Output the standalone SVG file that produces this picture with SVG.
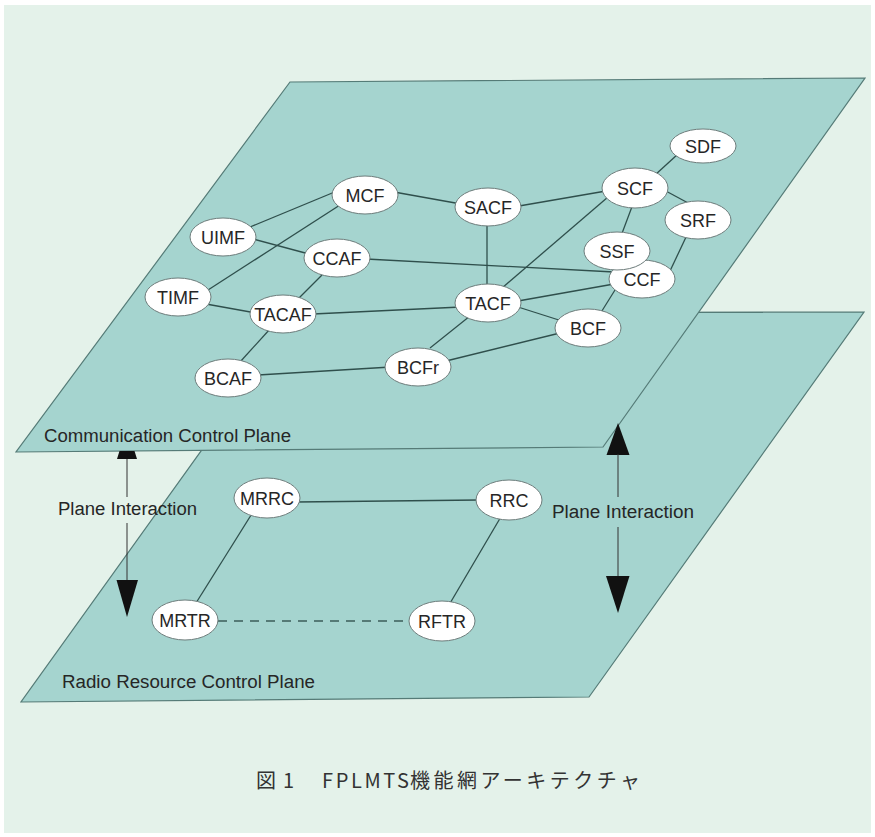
<svg xmlns="http://www.w3.org/2000/svg" width="875" height="837" viewBox="0 0 875 837">
<style>
.bg{fill:#e4f2ea}
.plane{fill:#a5d4cf;stroke:#557b77;stroke-width:1.2}
.edge{stroke:#2f4f4c;stroke-width:1.3;fill:none}
.dash{stroke:#3b5c59;stroke-width:1.3;stroke-dasharray:9 7;fill:none}
.node ellipse{fill:#ffffff;stroke:#6d7c7b;stroke-width:1}
.node text{font-family:"Liberation Sans",Arial,Helvetica,sans-serif;font-size:18px;fill:#262626;text-anchor:middle}
.lbl{font-family:"Liberation Sans",Arial,Helvetica,sans-serif;font-size:18px;fill:#262626}
.shaft{stroke:#333;stroke-width:1}
.head{fill:#111}
.cap{font-family:"Noto Sans CJK JP","Liberation Sans",sans-serif;font-size:20px;fill:#333333}
</style>
<rect x="0" y="0" width="875" height="837" fill="#ffffff"/>
<rect class="bg" x="4" y="5" width="867" height="828"/>

<g id="radio-plane">
<polygon class="plane" points="300,313 864,312 589,697 21,702"/>
<text class="lbl" x="62" y="688" textLength="253" lengthAdjust="spacingAndGlyphs">Radio Resource Control Plane</text>
</g>

<g id="comm-plane">
<polygon class="plane" points="290,82 865,78 603,447 16,452"/>
<text class="lbl" x="44" y="442" textLength="247" lengthAdjust="spacingAndGlyphs">Communication Control Plane</text>
</g>

<g id="connectors">
<line class="edge" x1="250" y1="227" x2="337" y2="191"/>
<line class="edge" x1="208" y1="290" x2="340" y2="205"/>
<line class="edge" x1="253" y1="239" x2="309" y2="254"/>
<line class="edge" x1="322" y1="275" x2="298" y2="299"/>
<line class="edge" x1="206" y1="304" x2="256" y2="313"/>
<line class="edge" x1="313" y1="314" x2="461" y2="307"/>
<line class="edge" x1="270" y1="329" x2="240" y2="362"/>
<line class="edge" x1="258" y1="375" x2="391" y2="367"/>
<line class="edge" x1="394" y1="192" x2="461" y2="204"/>
<line class="edge" x1="366" y1="259" x2="614" y2="272"/>
<line class="edge" x1="519" y1="206" x2="606" y2="191"/>
<line class="edge" x1="487" y1="222" x2="487" y2="288"/>
<line class="edge" x1="608" y1="197" x2="502" y2="288"/>
<line class="edge" x1="655" y1="175" x2="678" y2="154"/>
<line class="edge" x1="664" y1="190" x2="690" y2="204"/>
<line class="edge" x1="633" y1="204" x2="621" y2="236"/>
<line class="edge" x1="687" y1="235" x2="670" y2="271"/>
<line class="edge" x1="518" y1="301" x2="614" y2="284"/>
<line class="edge" x1="518" y1="307" x2="562" y2="321"/>
<line class="edge" x1="615" y1="290" x2="600" y2="314"/>
<line class="edge" x1="470" y1="316" x2="430" y2="348"/>
<line class="edge" x1="446" y1="361" x2="560" y2="333"/>
<line class="edge" x1="296" y1="502" x2="479" y2="500"/>
<line class="edge" x1="253" y1="512" x2="196" y2="603"/>
<line class="edge" x1="502" y1="515" x2="449" y2="605"/>
<line class="dash" x1="218" y1="621" x2="410" y2="621"/>
<!-- left plane interaction arrow -->
<polygon class="head" points="117,459 137,459 134.5,451 119.5,451"/>
<line class="shaft" x1="127" y1="459" x2="127" y2="497"/>
<line class="shaft" x1="127" y1="523" x2="127" y2="582"/>
<polygon class="head" points="116.5,580 138,580 127,617"/>
<!-- right plane interaction arrow -->
<polygon class="head" points="618,423 629.5,455 606.5,455"/>
<line class="shaft" x1="618" y1="454" x2="618" y2="497"/>
<line class="shaft" x1="618" y1="527" x2="618" y2="578"/>
<polygon class="head" points="606,576 629.5,576 618,613"/>
</g>

<text class="lbl" x="58" y="515" textLength="139" lengthAdjust="spacingAndGlyphs">Plane Interaction</text>
<text class="lbl" x="552" y="518" textLength="142" lengthAdjust="spacingAndGlyphs">Plane Interaction</text>

<g id="MCF" class="node"><ellipse cx="365" cy="195" rx="33" ry="19"/><text x="365" y="201.5">MCF</text></g>
<g id="UIMF" class="node"><ellipse cx="223" cy="237" rx="33" ry="19"/><text x="223" y="243.5">UIMF</text></g>
<g id="CCAF" class="node"><ellipse cx="337" cy="258" rx="33" ry="19"/><text x="337" y="264.5">CCAF</text></g>
<g id="TIMF" class="node"><ellipse cx="178" cy="297" rx="33" ry="19"/><text x="178" y="303.5">TIMF</text></g>
<g id="TACAF" class="node"><ellipse cx="283" cy="314" rx="33" ry="19"/><text x="283" y="320.5">TACAF</text></g>
<g id="BCAF" class="node"><ellipse cx="228" cy="378" rx="33" ry="19"/><text x="228" y="384.5">BCAF</text></g>
<g id="BCFr" class="node"><ellipse cx="418" cy="367" rx="33" ry="19"/><text x="418" y="373.5">BCFr</text></g>
<g id="SDF" class="node"><ellipse cx="703" cy="146" rx="33" ry="17"/><text x="703" y="152.5">SDF</text></g>
<g id="SCF" class="node"><ellipse cx="635" cy="188" rx="33" ry="20"/><text x="635" y="194.5">SCF</text></g>
<g id="SACF" class="node"><ellipse cx="488" cy="207" rx="33" ry="19"/><text x="488" y="213.5">SACF</text></g>
<g id="SRF" class="node"><ellipse cx="698" cy="220" rx="33" ry="19"/><text x="698" y="226.5">SRF</text></g>
<g id="CCF" class="node"><ellipse cx="642" cy="279" rx="33" ry="19"/><text x="642" y="285.5">CCF</text></g>
<g id="SSF" class="node"><ellipse cx="617" cy="251" rx="33" ry="19"/><text x="617" y="257.5">SSF</text></g>
<g id="TACF" class="node"><ellipse cx="488" cy="303" rx="33" ry="19"/><text x="488" y="309.5">TACF</text></g>
<g id="BCF" class="node"><ellipse cx="588" cy="328" rx="33" ry="19"/><text x="588" y="334.5">BCF</text></g>
<g id="MRRC" class="node"><ellipse cx="267" cy="498" rx="33" ry="20"/><text x="267" y="504.5">MRRC</text></g>
<g id="RRC" class="node"><ellipse cx="509" cy="500" rx="33" ry="20"/><text x="509" y="506.5">RRC</text></g>
<g id="MRTR" class="node"><ellipse cx="185" cy="620" rx="33" ry="20"/><text x="185" y="626.5">MRTR</text></g>
<g id="RFTR" class="node"><ellipse cx="442" cy="621" rx="33" ry="20"/><text x="442" y="627.5">RFTR</text></g>

<g id="caption">
<text class="cap" x="256" y="788">図</text>
<text class="cap" x="283" y="788">1</text>
<text class="cap" x="322" y="788" textLength="87" lengthAdjust="spacing">FPLMTS</text>
<text class="cap" x="410" y="788" letter-spacing="3.5">機能網アーキテクチャ</text>
</g>
</svg>
